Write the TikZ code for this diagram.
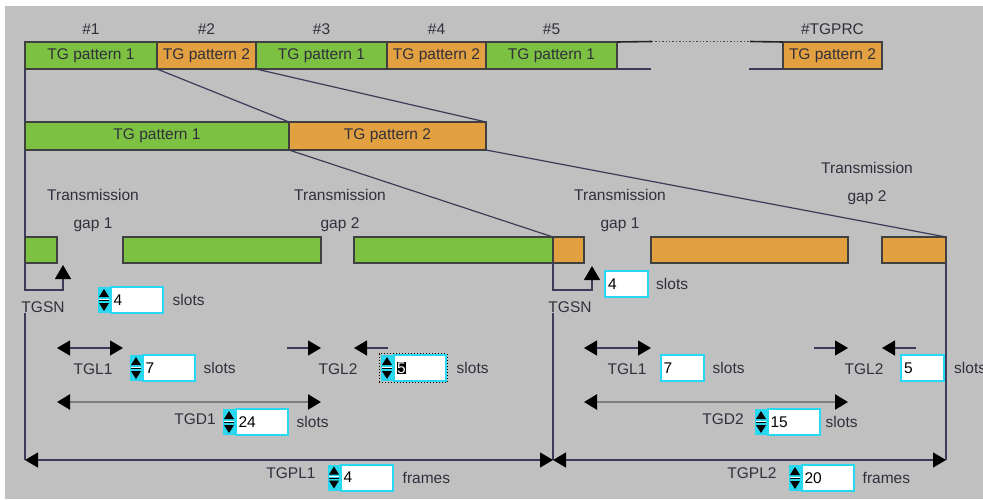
\documentclass[tikz,border=0pt]{standalone}
\usepackage{fontspec}
\setmainfont{Liberation Sans}
\usepackage{xcolor}
\usepackage{tikz}
\usetikzlibrary{arrows.meta, positioning, fit, calc}
\definecolor{bggrey}{RGB}{192,192,192}
\definecolor{tggreen}{RGB}{124,193,66}
\definecolor{tgorange}{RGB}{227,160,64}
\definecolor{fieldcyan}{RGB}{40,215,240}
\definecolor{txtgrey}{RGB}{48,48,60}
\definecolor{linegrey}{RGB}{60,60,90}
\tikzstyle{pat1} = [rectangle, draw=black!75, fill=tggreen, line width=1.2pt, inner sep=0pt, outer sep=0pt, text=txtgrey]
\tikzstyle{pat2} = [pat1, fill=tgorange]
\tikzstyle{lbl} = [text=txtgrey, inner sep=0pt]
\tikzstyle{gaplbl} = [lbl, align=center, font=\fontsize{15.5}{28}\selectfont]
\tikzstyle{field} = [rectangle, draw=fieldcyan, line width=2pt, fill=white, minimum height=26pt, inner xsep=3pt, inner ysep=0pt, text width=46pt, align=left, outer sep=0pt]
\tikzstyle{smallfield} = [field, text width=37pt]
\tikzstyle{spinbtn} = [rectangle, fill=fieldcyan, minimum width=13pt, minimum height=26pt, inner sep=0pt, outer sep=0pt,
  path picture={
    \fill[black] (path picture bounding box.center) ++(0pt,11pt) -- ++(-5pt,-8pt) -- ++(10pt,0pt) -- cycle;
    \fill[black] (path picture bounding box.center) ++(0pt,-11pt) -- ++(-5pt,8pt) -- ++(10pt,0pt) -- cycle;
    \draw[white, line width=1pt] ($(path picture bounding box.center)+(-5pt,1pt)$) -- ++(10pt,0pt);
    \draw[black, line width=1pt] ($(path picture bounding box.center)+(-5pt,-0.5pt)$) -- ++(10pt,0pt);
  }]
\tikzstyle{zoomln} = [draw=linegrey, line width=1.2pt]
\tikzstyle{dimarr} = [{Triangle[length=13pt,width=15pt,color=black]}-{Triangle[length=13pt,width=15pt,color=black]}, draw=linegrey, line width=1.2pt]
\tikzstyle{durarr} = [dimarr, draw=black!50, line width=2.4pt]
\tikzstyle{onearr} = [-{Triangle[length=13pt,width=15pt,color=black]}, draw=linegrey, line width=1.2pt]
\tikzstyle{hook} = [-{Triangle[length=14pt,width=16pt,color=black]}, draw=linegrey, line width=1.2pt]

\begin{document}
\begin{tikzpicture}[x=1pt, y=-1pt, font=\fontsize{15.5}{18}\selectfont]
  \useasboundingbox (0,0) rectangle (983,499);
  \clip (0,0) rectangle (983,499);
  \fill[white] (0,0) rectangle (983,499);
  \fill[bggrey] (5,6) rectangle (983,499);
  % Row 1 (pattern sequence)
  \node[pat1, minimum width=132, minimum height=27] (t1) at (91,55.5) {TG pattern 1};
  \node[pat2, minimum width=99, minimum height=27] (t2) at (206.5,55.5) {TG pattern 2};
  \node[pat1, minimum width=131, minimum height=27] (t3) at (321.5,55.5) {TG pattern 1};
  \node[pat2, minimum width=99, minimum height=27] (t4) at (436.5,55.5) {TG pattern 2};
  \node[pat1, minimum width=131, minimum height=27] (t5) at (551.5,55.5) {TG pattern 1};
  \node[pat2, minimum width=99, minimum height=27] (t6) at (832.5,55.5) {TG pattern 2};
  \node[lbl, above=7pt of t1] (n1) {\#1};
  \node[lbl, above=7pt of t2] (n2) {\#2};
  \node[lbl, above=7pt of t3] (n3) {\#3};
  \node[lbl, above=7pt of t4] (n4) {\#4};
  \node[lbl, above=7pt of t5] (n5) {\#5};
  \node[lbl, above=7pt of t6] (n6) {\#TGPRC};
  \coordinate (e1) at (652,41.5);
  \coordinate (e2) at (750,41.5);
  \draw[black!85, line width=1.6pt] (t5.north east) -- (e1);
  \draw[black!70, line width=1.4pt, dotted] (e1) -- (e2);
  \draw[black!85, line width=1.6pt] (e2) -- (t6.north west);
  \draw[zoomln] (t5.south east) -- ++(34,0);
  \draw[zoomln] (t6.south west) -- ++(-34,0);
  % Row 2 (one repetition)
  \node[pat1, minimum width=264, minimum height=28] (m1) at (157,136) {TG pattern 1};
  \node[pat2, minimum width=197, minimum height=28] (m2) at (387.5,136) {TG pattern 2};
  \draw[zoomln] (t1.south east) -- (m1.north east);
  \draw[zoomln] (t2.south east) -- (m2.north east);
  \draw[zoomln] (t1.south west) -- (m1.north west);
  % Row 3 (slots and gaps)
  \node[pat1, minimum width=32, minimum height=26] (s1) at (41,250) {};
  \node[pat1, minimum width=198, minimum height=26] (s2) at (222,250) {};
  \node[pat1, minimum width=199, minimum height=26] (s3) at (453.5,250) {};
  \node[pat2, minimum width=31, minimum height=26] (s4) at (568.5,250) {};
  \node[pat2, minimum width=197, minimum height=26] (s5) at (749.5,250) {};
  \node[pat2, minimum width=64, minimum height=26] (s6) at (914,250) {};
  \draw[zoomln] (m1.south east) -- (s3.north east);
  \draw[zoomln] (m2.south east) -- (s6.north east);
  \draw[zoomln] (m1.south west) -- (s1.north west);
  \node[gaplbl] (g1) at (93,210.6) {Transmission\\gap 1};
  \node[gaplbl] (g2) at (340,210.6) {Transmission\\gap 2};
  \node[gaplbl] (g3) at (620,210.6) {Transmission\\gap 1};
  \node[gaplbl] (g4) at (867,183.6) {Transmission\\gap 2};
  % TGSN
  \coordinate (hk1) at (63,290);
  \coordinate (hk2) at (592,290);
  \draw[hook] (s1.south west) |- (hk1) -- ($(hk1 |- s1.south)+(0,2)$);
  \draw[hook] (s4.south west) |- (hk2) -- ($(hk2 |- s4.south)+(0,3)$);
  \node[lbl] (sn1) at (43,307) {TGSN};
  \node[lbl] (sn2) at (570,307) {TGSN};
  \node[field] (fSN1) at (136.5,300) {4};
  \node[spinbtn, left=0pt of fSN1] (sp1) {};
  \node[lbl, right=10pt of fSN1] (u1) {slots};
  \node[smallfield] (fSN2) at (626.5,284) {4};
  \node[lbl, right=8pt of fSN2] (u2) {slots};
  % dimension rows
  \coordinate (rowL) at (0,348);
  \coordinate (rowD) at (0,402);
  \coordinate (rowP) at (0,460);
  \draw[zoomln] (s1.west |- sn1.south) -- (s1.west |- rowP);
  \draw[zoomln] (s4.west |- sn2.south) -- (s4.west |- rowP);
  \draw[zoomln] (s6.south east) -- (s6.east |- rowP);
  % left half
  \draw[dimarr] (s1.east |- rowL) -- (s2.west |- rowL);
  \draw[onearr] ($(s2.east |- rowL)+(-34,0)$) -- (s2.east |- rowL);
  \draw[onearr] ($(s3.west |- rowL)+(34,0)$) -- (s3.west |- rowL);
  \draw[durarr] (s1.east |- rowD) -- (s2.east |- rowD);
  \draw[dimarr] (s1.west |- rowP) -- (s3.east |- rowP);
  \node[lbl] (l1) at (93,369) {TGL1};
  \node[field] (fL1) at (168.5,368) {7};
  \node[spinbtn, left=0pt of fL1] (sp2) {};
  \node[lbl, right=9pt of fL1] (u3) {slots};
  \node[lbl] (l2) at (338,369) {TGL2};
  \node[field] (fL2) at (419.5,368) {\setlength\fboxsep{0.5pt}\colorbox{black}{\textcolor{white}{5}}};
  \node[spinbtn, left=0pt of fL2] (sp3) {};
  \node[draw=black, dotted, line width=1pt, inner sep=1.5pt, fit=(sp3)(fL2)] (focus) {};
  \node[lbl, right=11pt of fL2] (u4) {slots};
  \node[lbl] (d1) at (195,419) {TGD1};
  \node[field] (fD1) at (261.5,422) {24};
  \node[spinbtn, left=0pt of fD1] (sp4) {};
  \node[lbl, right=9pt of fD1] (u5) {slots};
  \node[lbl] (p1) at (291,473) {TGPL1};
  \node[field] (fP1) at (366.5,477.5) {4};
  \node[spinbtn, left=0pt of fP1] (sp5) {};
  \node[lbl, right=10pt of fP1] (u6) {frames};
  % right half
  \draw[dimarr] (s4.east |- rowL) -- (s5.west |- rowL);
  \draw[onearr] ($(s5.east |- rowL)+(-34,0)$) -- (s5.east |- rowL);
  \draw[onearr] ($(s6.west |- rowL)+(34,0)$) -- (s6.west |- rowL);
  \draw[durarr] (s4.east |- rowD) -- (s5.east |- rowD);
  \draw[dimarr] (s4.west |- rowP) -- (s6.east |- rowP);
  \node[lbl] (l3) at (627,369) {TGL1};
  \node[smallfield] (fL3) at (682,368) {7};
  \node[lbl, right=9pt of fL3] (u7) {slots};
  \node[lbl] (l4) at (864,369) {TGL2};
  \node[smallfield] (fL4) at (922.5,368) {5};
  \node[lbl, right=10pt of fL4] (u8) {slots};
  \node[lbl] (d2) at (723,419) {TGD2};
  \node[field] (fD2) at (793.5,422) {15};
  \node[spinbtn, left=0pt of fD2] (sp6) {};
  \node[lbl, right=6pt of fD2] (u9) {slots};
  \node[lbl] (p2) at (752,473) {TGPL2};
  \node[field] (fP2) at (827.5,478) {20};
  \node[spinbtn, left=0pt of fP2] (sp7) {};
  \node[lbl, right=9pt of fP2] (u10) {frames};
\end{tikzpicture}
\end{document}
